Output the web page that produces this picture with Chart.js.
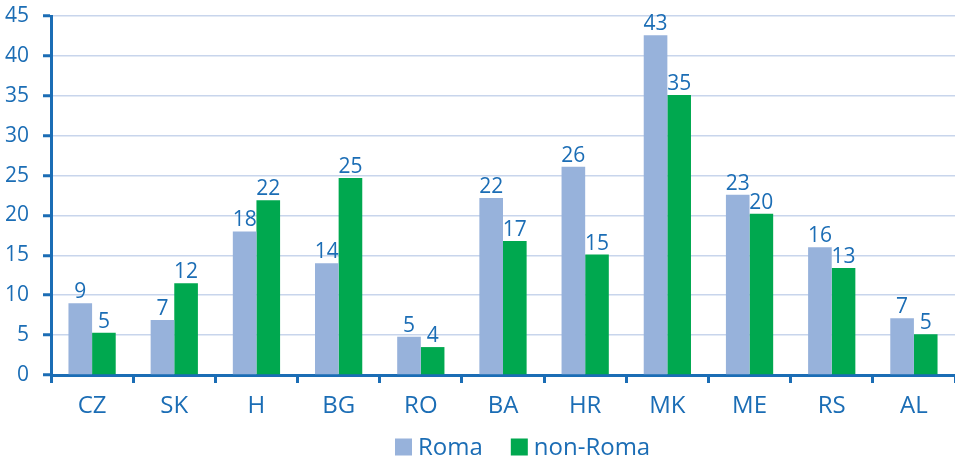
<!DOCTYPE html>
<html><head><meta charset="utf-8">
<script src="https://cdn.jsdelivr.net/npm/chart.js@4/dist/chart.umd.min.js"></script>
<style>html,body{margin:0;padding:0;background:#fff}#wrap{width:955px;height:460px}</style>
</head><body><div id="wrap"><canvas id="c" width="955" height="460"></canvas></div>
<script>
const categories = ["CZ","SK","H","BG","RO","BA","HR","MK","ME","RS","AL"];
const seriesNames = ["Roma", "non-Roma"];
const roma = [9.0, 6.9, 18.0, 14.0, 4.8, 22.2, 26.1, 42.6, 22.6, 16.0, 7.1];
const nonRoma = [5.3, 11.5, 21.9, 24.7, 3.5, 16.8, 15.1, 35.1, 20.2, 13.4, 5.1];
const yTicks = [0,5,10,15,20,25,30,35,40,45];

const BLUE = '#1b6db5';
const COLORS = ['#97b2db', '#00a84f'];
const FONT = "'Open Sans','Liberation Sans',sans-serif";
const FS = 21;
const FS_BIG = 24;

const labelPlugin = {
  id: 'barLabels',
  afterDatasetsDraw(chart) {
    const ctx = chart.ctx;
    ctx.save();
    ctx.fillStyle = BLUE;
    ctx.font = FS + "px " + FONT;
    ctx.textAlign = 'center';
    ctx.textBaseline = 'alphabetic';
    chart.data.datasets.forEach((ds, i) => {
      const meta = chart.getDatasetMeta(i);
      meta.data.forEach((bar, j) => {
        ctx.fillText(String(Math.round(ds.data[j])), bar.x, bar.y - 5);
      });
    });
    ctx.restore();
  }
};

const legendPlugin = {
  id: 'customLegend',
  afterDraw(chart) {
    const ctx = chart.ctx;
    ctx.save();
    ctx.font = FS_BIG + "px " + FONT;
    ctx.textBaseline = 'middle';
    ctx.textAlign = 'left';
    const cy = 447;
    const box = 17, gapText = 6, gapItem = 28;
    const widths = seriesNames.map(n => ctx.measureText(n).width);
    let x = 395;
    seriesNames.forEach((n, i) => {
      ctx.fillStyle = COLORS[i];
      ctx.fillRect(x, cy - box / 2, box, box);
      ctx.fillStyle = BLUE;
      ctx.fillText(n, x + box + gapText, cy + 1);
      x += box + gapText + widths[i] + gapItem;
    });
    ctx.restore();
  }
};

new Chart(document.getElementById('c'), {
  type: 'bar',
  data: {
    labels: categories,
    datasets: [
      { label: seriesNames[0], data: roma, backgroundColor: COLORS[0], categoryPercentage: 0.575, barPercentage: 1.0 },
      { label: seriesNames[1], data: nonRoma, backgroundColor: COLORS[1], categoryPercentage: 0.575, barPercentage: 1.0 }
    ]
  },
  options: {
    responsive: false,
    animation: false,
    devicePixelRatio: 1,
    layout: { padding: { top: 16, right: 0, left: 0, bottom: 35 } },
    plugins: {
      legend: { display: false },
      tooltip: { enabled: false }
    },
    scales: {
      x: {
        afterFit(scale) { scale.height = 50; scale.paddingLeft = 0; scale.paddingRight = 0; },
        grid: { display: true, drawOnChartArea: false, offset: true, tickLength: 8, tickColor: BLUE, tickWidth: 3 },
        border: { display: true, color: BLUE, width: 3 },
        ticks: { color: BLUE, font: { size: FS_BIG, family: FONT }, padding: 9 }
      },
      y: {
        min: 0, max: 45,
        afterBuildTicks(scale) { scale.ticks = yTicks.map(v => ({ value: v })); },
        afterFit(scale) { scale.width = 51; scale.paddingTop = 0; scale.paddingBottom = 0; },
        grid: { color: '#c8d5ec', lineWidth: 1.5, tickLength: 8, tickColor: BLUE, tickWidth: 3 },
        border: { display: true, color: BLUE, width: 3 },
        ticks: { color: BLUE, font: { size: FS, family: FONT }, padding: 14 }
      }
    }
  },
  plugins: [labelPlugin, legendPlugin]
});
</script></body></html>
